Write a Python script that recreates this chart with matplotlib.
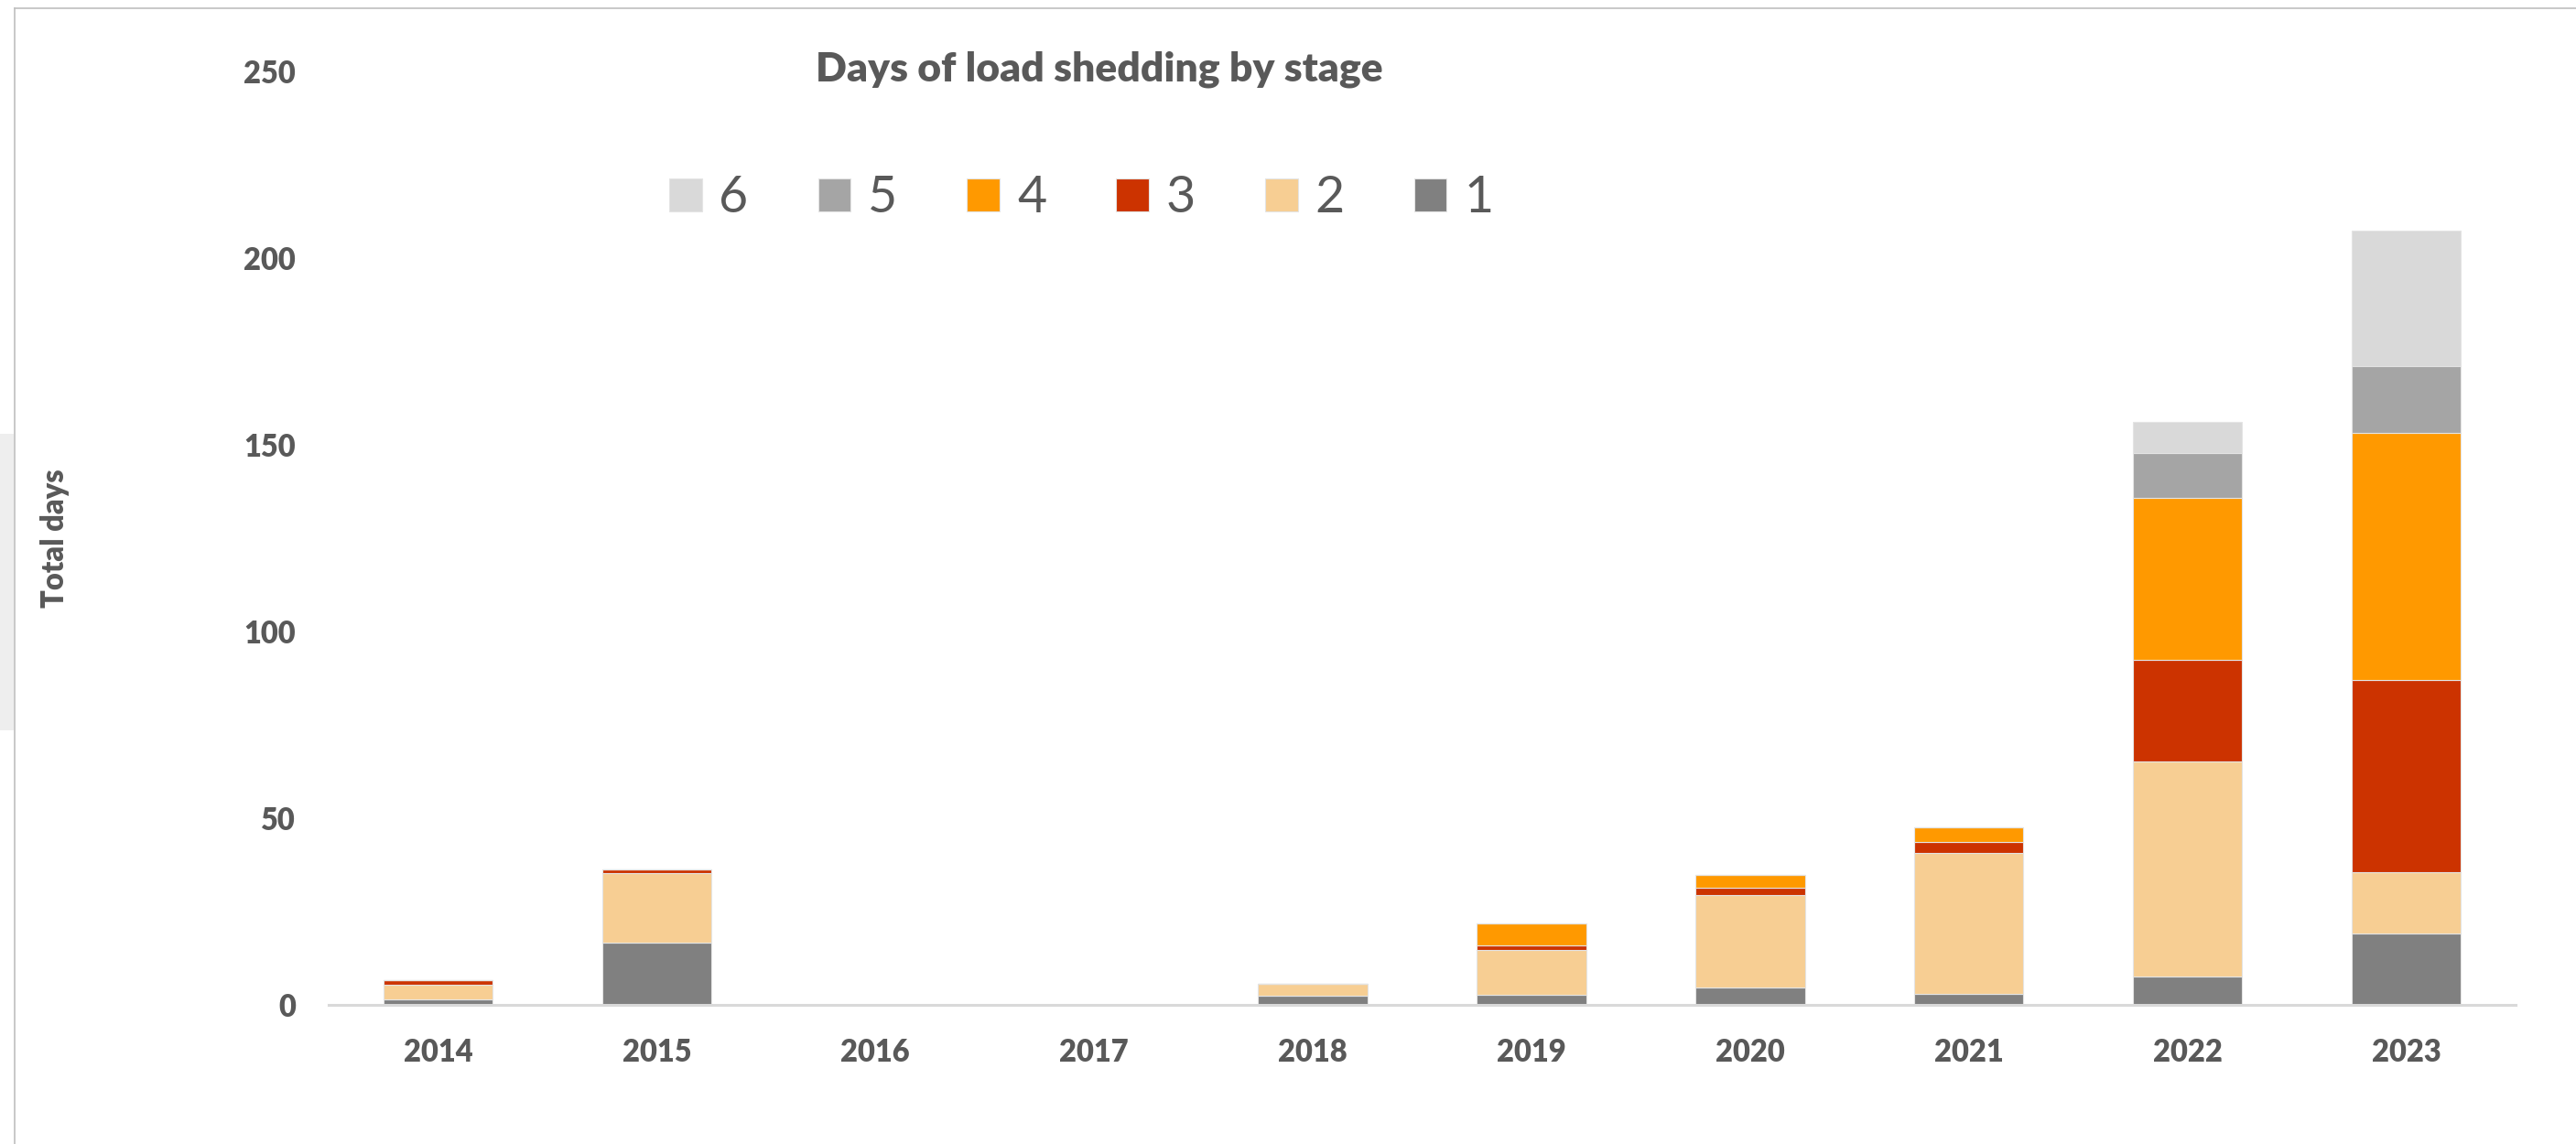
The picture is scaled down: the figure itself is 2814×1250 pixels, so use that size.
import matplotlib
matplotlib.use("Agg")
import matplotlib.pyplot as plt
import numpy as np
from matplotlib.patches import Rectangle
from matplotlib.lines import Line2D

# Days of load shedding per year, split by stage
years = ["2014", "2015", "2016", "2017", "2018", "2019", "2020", "2021", "2022", "2023"]
stage_1 = [1.5, 16.6, 0, 0, 2.5, 2.7, 4.75, 2.9, 7.6, 19.1]
stage_2 = [4.0, 18.6, 0, 0, 3.2, 12.0, 24.75, 37.8, 57.7, 16.4]
stage_3 = [1.2, 1.0, 0, 0, 0, 1.2, 1.9, 2.9, 27.0, 51.5]
stage_4 = [0, 0, 0, 0, 0, 5.9, 3.5, 4.0, 43.4, 66.1]
stage_5 = [0, 0, 0, 0, 0, 0, 0, 0, 12.2, 18.1]
stage_6 = [0, 0, 0, 0, 0, 0, 0, 0, 8.2, 36.2]

stage_names = ["1", "2", "3", "4", "5", "6"]
stage_colors = ["#808080", "#F7CE93", "#CC3300", "#FF9900", "#A5A5A5", "#D9D9D9"]

TXT = "#595959"
FONT = "Lato"
WEIGHT = "heavy"

fig = plt.figure(figsize=(28.14, 12.5), dpi=100)
ax = fig.add_axes([359 / 2814, 1 - 1098 / 1250, (2748 - 359) / 2814, 1020 / 1250])

x = np.arange(len(years))
bottom = np.zeros(len(years))
handles = []
for name, vals, col in zip(stage_names,
                           [stage_1, stage_2, stage_3, stage_4, stage_5, stage_6],
                           stage_colors):
    vals = np.array(vals, dtype=float)
    b = ax.bar(x, vals, width=0.5, bottom=bottom, color=col,
               edgecolor="#e4e4e4", linewidth=0.8, label=name, zorder=2)
    handles.append(b)
    bottom += vals

ax.set_xlim(-0.5, len(years) - 0.5)
ax.set_ylim(0, 250)
ax.set_yticks([0, 50, 100, 150, 200, 250])
ax.set_xticks(x)
ax.set_xticklabels(years)

for s in ["top", "right", "left"]:
    ax.spines[s].set_visible(False)
ax.spines["bottom"].set_color("#d9d9d9")
ax.spines["bottom"].set_linewidth(2.2)
ax.spines["bottom"].set_zorder(3)

ax.tick_params(axis="both", length=0, colors=TXT, labelsize=23.5)
ax.tick_params(axis="y", pad=26)
ax.tick_params(axis="x", pad=26)
for lab in ax.get_xticklabels() + ax.get_yticklabels():
    lab.set_fontfamily(FONT)
    lab.set_fontweight(WEIGHT)

ax.set_ylabel("Total days", fontsize=23.5, fontweight=WEIGHT, color=TXT,
              fontfamily=FONT)
ax.yaxis.set_label_coords((76 - 359) / 2389, 0.5)

fig.text(1201 / 2814, 1 - 88 / 1250, "Days of load shedding by stage",
         ha="center", va="baseline", fontsize=32, fontweight=WEIGHT,
         color=TXT, fontfamily=FONT)

leg = fig.legend(handles[::-1], stage_names[::-1], ncol=6, frameon=False,
                 loc="center left", bbox_to_anchor=(731 / 2814, 1 - 217 / 1250),
                 borderaxespad=0, borderpad=0,
                 handlelength=0.64, handleheight=0.64, handletextpad=0.34,
                 columnspacing=1.37, prop={"family": FONT, "size": 40})
for t in leg.get_texts():
    t.set_color(TXT)

# chart frame: top and left border, plus a faint shadow at the left edge
fig.add_artist(Line2D([16 / 2814, 1], [1 - 9 / 1250, 1 - 9 / 1250],
                      color="#bfbfbf", linewidth=1.2, transform=fig.transFigure))
fig.add_artist(Line2D([16 / 2814, 16 / 2814], [0, 1 - 9 / 1250],
                      color="#bfbfbf", linewidth=1.2, transform=fig.transFigure))
fig.add_artist(Rectangle((0, 1 - 798 / 1250), 15 / 2814, (798 - 474) / 1250,
                         facecolor="#eeeeee", edgecolor="none",
                         transform=fig.transFigure))

fig.savefig("out.png", dpi=100, facecolor="white")
